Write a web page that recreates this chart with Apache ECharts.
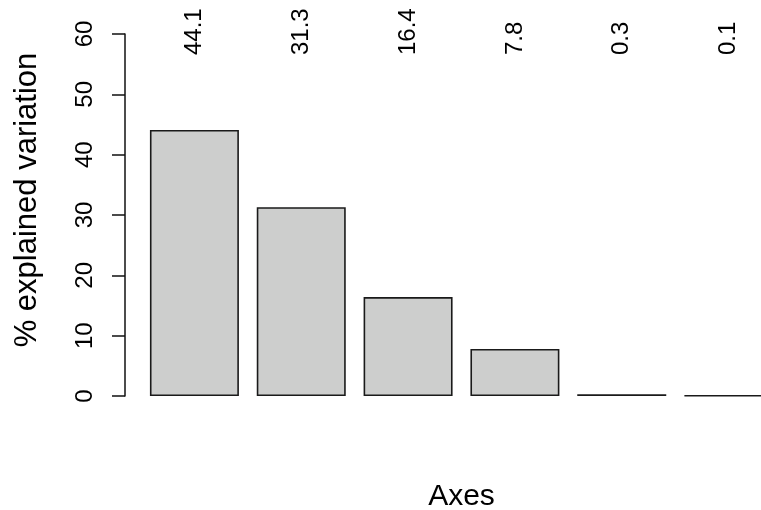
<!DOCTYPE html>
<html>
<head>
<meta charset="utf-8">
<title>explained variation</title>
<script src="https://cdn.jsdelivr.net/npm/echarts@6/dist/echarts.min.js"></script>
<style>
  html, body { margin: 0; padding: 0; background: #fff; }
  #myChart1 { width: 761px; height: 510px; }
</style>
</head>
<body>
<div id="myChart1"></div>
<script>
  // components of the ordination
  const axesNames = ['1', '2', '3', '4', '5', '6'];
  // % explained variation per axis
  const explained = [44.1, 31.3, 16.4, 7.8, 0.3, 0.1];
  // labels written above the bars
  const topLabels = ['44.1', '31.3', '16.4', '7.8', '0.3', '0.1'];

  const font = 'Liberation Sans, Arial, Helvetica, sans-serif';

  const chart1 = echarts.init(document.getElementById('myChart1'));
  const option = {
    animation: false,
    backgroundColor: '#ffffff',
    grid: {
      left: 141,
      right: -21,
      top: 34,
      bottom: 114,
      containLabel: false,
      outerBoundsMode: 'none'
    },
    xAxis: [
      {
        type: 'category',
        data: axesNames,
        position: 'bottom',
        name: 'Axes',
        nameLocation: 'middle',
        nameGap: 86,
        nameTextStyle: { fontFamily: font, fontSize: 30, color: '#000' },
        axisLine: { show: false },
        axisTick: { show: false },
        axisLabel: { show: false }
      },
      {
        type: 'category',
        data: topLabels,
        position: 'top',
        axisLine: { show: false },
        axisTick: { show: false },
        axisLabel: {
          rotate: -90,
          margin: -21,
          interval: 0,
          fontFamily: font,
          fontSize: 24,
          color: '#000',
          padding: [6, 0, 0, 0]
        }
      }
    ],
    yAxis: {
      type: 'value',
      min: 0,
      max: 60,
      interval: 10,
      offset: 16,
      name: '% explained variation',
      nameLocation: 'middle',
      nameGap: 82,
      nameTextStyle: { fontFamily: font, fontSize: 31, color: '#000', padding: [0, 0, 0, 30] },
      axisLine: { show: true, lineStyle: { color: '#111', width: 1.5 } },
      axisTick: { show: true, length: 13, lineStyle: { color: '#111', width: 1.5 } },
      axisLabel: {
        rotate: 90,
        margin: 28,
        fontFamily: font,
        fontSize: 24,
        color: '#000'
      },
      splitLine: { show: false }
    },
    series: [
      {
        type: 'bar',
        xAxisIndex: 0,
        data: explained,
        barCategoryGap: '16.7%',
        itemStyle: {
          color: '#cdcecd',
          borderColor: '#1a1a1a',
          borderWidth: 1.6
        }
      }
    ]
  };
  chart1.setOption(option);
</script>
</body>
</html>
